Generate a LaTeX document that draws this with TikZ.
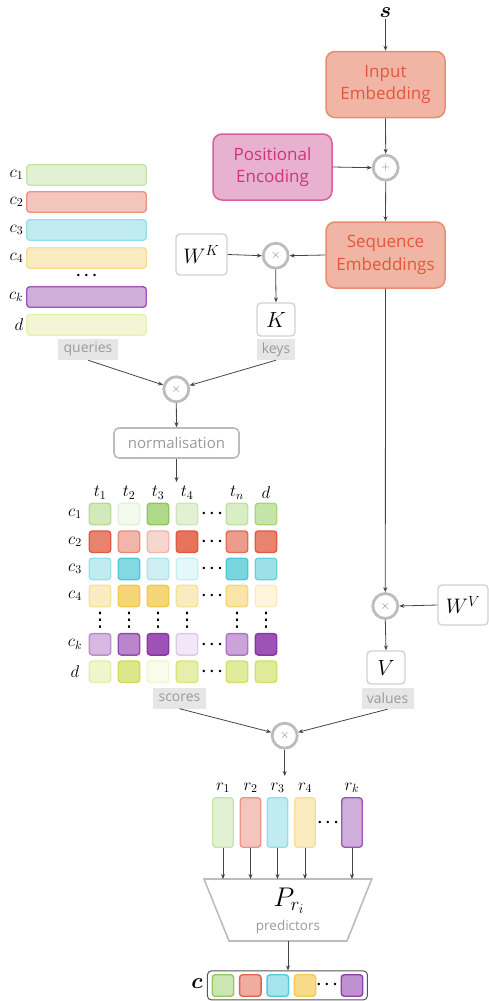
\RequirePackage{fix-cm}
\documentclass[tikz,border=0pt]{standalone}
\usepackage{bm}
\usepackage{fontspec}
\setmainfont{Open Sans}
\newfontfamily\symfont{DejaVu Sans}
\usetikzlibrary{arrows.meta}

% palette
\definecolor{embfill}{HTML}{F1B5A5}
\definecolor{embdraw}{HTML}{E98C72}
\definecolor{embtext}{HTML}{E2573A}
\definecolor{posfill}{HTML}{E8B1D0}
\definecolor{posdraw}{HTML}{D8619C}
\definecolor{postext}{HTML}{D2327A}
\definecolor{opgray}{HTML}{BCBCBC}
\definecolor{boxgray}{HTML}{D2D2D2}
\definecolor{taggray}{HTML}{9A9A9A}
\definecolor{tagfill}{HTML}{E6E6E6}
\definecolor{arrowgray}{HTML}{444444}
\definecolor{frame}{HTML}{555555}
% hues of the class colours
\definecolor{G}{HTML}{8CC855}
\definecolor{R}{HTML}{E05A40}
\definecolor{C}{HTML}{4CC8D4}
\definecolor{Y}{HTML}{F2C84A}
\definecolor{P}{HTML}{8A35A8}
\definecolor{L}{HTML}{CCDD55}

\begin{document}
\begin{tikzpicture}[x=1pt,y=-1pt,
  arr/.style={draw=arrowgray, line width=0.8pt, -{Stealth[length=5pt,width=4pt]}},
  bigbox/.style={rounded corners=9pt, line width=1.5pt, minimum width=119pt,
    minimum height=66pt, align=center, font=\fontsize{17}{22.5}\selectfont},
  embbox/.style={bigbox, fill=embfill, draw=embdraw, text=embtext},
  posbox/.style={bigbox, fill=posfill, draw=posdraw, text=postext},
  op/.style={circle, draw=opgray, line width=2.8pt, fill=white, minimum size=25pt,
    inner sep=0pt, text=gray, font=\fontsize{12}{12}\selectfont},
  matbox/.style={rectangle, rounded corners=4pt, draw=boxgray, line width=1.4pt,
    fill=white, inner sep=0pt, font=\fontsize{21}{21}\selectfont},
  tag/.style={fill=tagfill, text=taggray, inner sep=0pt, minimum height=21pt,
    font=\fontsize{14}{14}\selectfont},
  bar/.style={rounded corners=3pt, line width=1.4pt, inner sep=0pt},
  cellst/.style={rounded corners=3pt, line width=1.4pt, minimum size=21.5pt, inner sep=0pt},
  lab/.style={inner sep=0pt, font=\fontsize{17}{17}\selectfont},
  dots/.style={inner sep=0pt, font=\fontsize{16}{16}\selectfont},
  vdot/.style={inner sep=0pt, font=\symfont\fontsize{20}{20}\selectfont},
]
\useasboundingbox (0,0) rectangle (489,1001);

% ---------------- sequence branch ----------------
\node[inner sep=1pt, font=\fontsize{22}{22}\selectfont] (s) at (385.5,13) {$\bm{s}$};
\node[embbox] (ie) at (385.5,84.5) {Input\\Embedding};
\node[op] (plus) at (385.7,167.7) {$+$};
\node[posbox] (pe) at (272.5,167) {Positional\\Encoding};
\node[embbox] (se) at (385.5,255) {Sequence\\Embeddings};

\draw[arr] (s) -- (ie.north);
\draw[arr] (ie.south) -- (plus.north);
\draw[arr] (pe.east) -- (plus.west);
\draw[arr] (plus.south) -- (se.north);

% ---------------- keys ----------------
\node[op] (mk) at (275.7,255.7) {$\times$};
\node[matbox, minimum width=51pt, minimum height=41pt] (wk) at (201.5,254.5) {$W^K$};
\node[matbox, minimum width=38pt, minimum height=33pt, font=\fontsize{22}{22}\selectfont]
  (k) at (276,319.5) {$K$};
\node[tag, minimum width=38pt] (keys) at (276,349.5) {keys};
\draw[arr] (se.west) -- (mk.east);
\draw[arr] (wk.east) -- (mk.west);
\draw[arr] (mk.south) -- (k.north);

% ---------------- queries ----------------
\foreach \hue/\y/\nm/\lb/\pf/\pd in {G/175/q1/c_1/25/50, R/202/q2/c_2/35/65, C/230/q3/c_3/35/60,
    Y/258/q4/c_4/35/60, P/297/qk/c_k/40/85, L/325/qd/d/25/45}{
  \node[bar, fill=\hue!\pf!white, draw=\hue!\pd!white, minimum width=119.5pt,
    minimum height=20.5pt] (\nm) at (86.5,\y) {};
  \node[lab, anchor=east] at (23.5,\y) {$\lb$};
}
\node[dots] (qdots) at (86.5,276) {$\bm{\cdots}$};
\node[tag, minimum width=60pt] (queries) at (88,349.5) {queries};

\node[op] (mq) at (176.3,389.3) {$\times$};
\draw[arr] (queries.south) -- (mq);
\draw[arr] (keys.south) -- (mq);

\node[rectangle, rounded corners=5pt, draw=opgray, line width=1.6pt, text=taggray,
  minimum width=125pt, minimum height=30pt, font=\fontsize{15}{15}\selectfont]
  (norm) at (176.5,443) {normalisation};
\coordinate (normout) at (176.5,482);
\draw[arr] (mq.south) -- (norm.north);
\draw[arr] (norm.south) -- (normout);

% ---------------- score matrix ----------------
\foreach \x/\t in {100/t_1,129/t_2,158/t_3,187/t_4,237/t_n,266/d}
  \node[lab] at (\x,493) {$\t$};
\foreach \hue/\ry/\lb/\vals [count=\i] in {
    G/514/c_1/{40,10,70,25,33,50},
    R/541.7/c_2/{75,45,25,85,60,75},
    C/569/c_3/{35,70,27,15,75,55},
    Y/596/c_4/{35,75,75,35,48,18},
    P/644.3/c_k/{35,60,85,12,45,85},
    L/671.7/d/{30,70,12,50,58,60}}{
  \node[lab] at (75,\ry) {$\lb$};
  \node[dots] at (212,\ry) {$\bm{\cdots}$};
  \foreach \p [count=\j] in \vals {
    \pgfmathsetmacro{\cx}{{100,129,158,187,237,266}[\j-1]}
    \pgfmathtruncatemacro{\q}{min(100,1.3*\p+12)}
    \node[cellst, fill=\hue!\p!white, draw=\hue!\q!white] (m-\i-\j) at (\cx,\ry) {};
  }
}
\foreach \x in {100,129,158,187,237,266}
  \node[vdot] at (\x,620) {⋮};
\node[tag, minimum width=53pt] (scores) at (179.5,698) {scores};

% ---------------- values ----------------
\node[op] (mv) at (385.3,606) {$\times$};
\node[matbox, minimum width=50pt, minimum height=40pt] (wv) at (463,605) {$W^V$};
\node[matbox, minimum width=38pt, minimum height=33pt, font=\fontsize{22}{22}\selectfont]
  (v) at (386,667.5) {$V$};
\node[tag, minimum width=52pt] (values) at (387.5,698.5) {values};
\draw[arr] (se.south) -- (mv.north);
\draw[arr] (wv.west) -- (mv.east);
\draw[arr] (mv.south) -- (v.north);

% ---------------- representations ----------------
\node[op] (mo) at (284.7,735.7) {$\times$};
\coordinate (rin) at (284.7,776);
\draw[arr] (scores.south) -- (mo);
\draw[arr] (values.south) -- (mo);
\draw[arr] (mo.south) -- (rin);

% predictor block
\coordinate (tl) at (204,879);
\coordinate (tr) at (371.7,879);
\coordinate (br) at (347,941);
\coordinate (bl) at (229,941);
\coordinate (tzb) at (288,941);
\draw[opgray, line width=1.6pt, line join=miter] (tl) -- (tr) -- (br) -- (bl) -- cycle;
\node[inner sep=0pt, font=\fontsize{27}{27}\selectfont] (pri) at (289,901) {$P_{r_i}$};
\node[inner sep=0pt, text=taggray, font=\fontsize{13.5}{14}\selectfont] (pred) at (288,927) {predictors};

\foreach \hue/\x/\nm/\lb/\pf/\pd in {G/223/r1/r_1/25/50, R/250.5/r2/r_2/35/65, C/277.5/r3/r_3/35/60,
    Y/305/r4/r_4/35/60, P/352/rk/r_k/40/85}{
  \node[bar, fill=\hue!\pf!white, draw=\hue!\pd!white, minimum width=20.5pt,
    minimum height=49.5pt] (\nm) at (\x,822.5) {};
  \node[lab] at (\x,788) {$\lb$};
  \draw[arr] (\nm.south) -- (\nm.south |- tl);
}
\node[dots] (rdots) at (328,823) {$\bm{\cdots}$};

% ---------------- output classes ----------------
\node[rectangle, rounded corners=4pt, draw=frame, line width=1pt, inner sep=0pt,
  minimum width=160pt, minimum height=29pt] (cbox) at (287.4,985.4) {};
\draw[arr] (tzb) -- (tzb |- cbox.north);
\node[inner sep=0pt, font=\fontsize{22}{22}\selectfont] (clab) at (197,984) {$\bm{c}$};
\foreach \hue/\x/\pf/\nm in {G/223/45/o1, R/250.3/50/o2, C/277.8/50/o3, Y/305/65/o4, P/352/55/ok}
  \node[cellst, fill=\hue!\pf!white, draw=\hue!95!white] (\nm) at (\x,985.5) {};
\node[dots] (cdots) at (327,985) {$\bm{\cdots}$};
\end{tikzpicture}
\end{document}
